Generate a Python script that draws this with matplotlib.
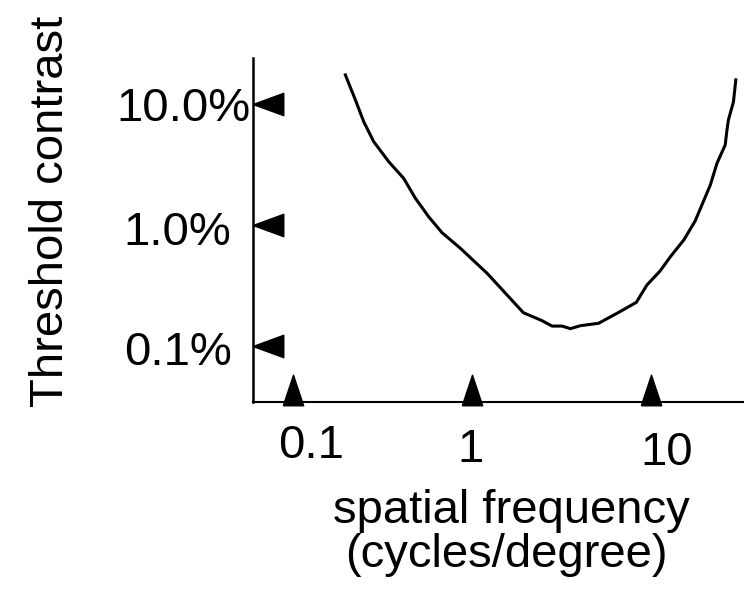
import matplotlib
matplotlib.use("Agg")
import matplotlib.pyplot as plt

plt.rcParams['font.family'] = ['Liberation Sans', 'DejaVu Sans']

# ---- data ----
freq = [0.195, 0.222, 0.247, 0.281, 0.341, 0.413, 0.480, 0.570, 0.677, 0.857,
        1.21, 1.93, 2.45, 2.79, 3.17, 3.53, 4.01, 5.08, 6.43, 8.25, 9.46,
        11.2, 12.8, 15.2, 17.6, 21.4, 23.3, 25.9, 26.5, 27.0, 28.8, 29.7]
threshold = [17.6, 10.9, 7.20, 4.91, 3.35, 2.44, 1.67, 1.17, 0.863, 0.641,
             0.397, 0.187, 0.161, 0.145, 0.145, 0.138, 0.146, 0.153, 0.185, 0.228, 0.318,
             0.415, 0.546, 0.751, 1.08, 2.15, 3.25, 4.61, 6.14, 7.44, 10.5, 16.0]
x_ticks = [0.1, 1, 10]
x_tick_labels = ['0.1', '1', '10']
y_ticks = [10, 1, 0.1]
y_tick_labels = ['10.0%', '1.0%', '0.1%']
ylabel = 'Threshold contrast'
xlabel_lines = ['spatial frequency', '(cycles/degree)']

W, H = 744, 603
fig = plt.figure(figsize=(W / 100, H / 100), dpi=100)
ax = fig.add_axes([253 / W, (H - 402) / H, (W - 253) / W, (402 - 58) / H])
ax.set_xscale('log')
ax.set_yscale('log')
ax.set_xlim(0.0594, 33.0)
ax.set_ylim(0.0340, 24.3)

ax.plot(freq, threshold, color='black', lw=2.2, solid_joinstyle='round')

for s in ['top', 'right']:
    ax.spines[s].set_visible(False)
ax.spines['left'].set_linewidth(1.8)
ax.spines['bottom'].set_linewidth(1.5)
ax.set_xticks([])
ax.set_yticks([])
ax.minorticks_off()
ax.tick_params(which='both', length=0, labelleft=False, labelbottom=False)

# triangle tick markers
up_tri = [(-2 / 3, -1), (2 / 3, -1), (0, 1), (-2 / 3, -1)]
left_tri = [(-1, 0), (1, -0.733), (1, 0.733), (-1, 0)]
xt = ax.get_xaxis_transform()
yt = ax.get_yaxis_transform()
ax.plot(x_ticks, [12 / 344] * len(x_ticks), transform=xt, ls='none',
        marker=up_tri, markersize=22, color='black', clip_on=False)
ax.plot([15 / 491] * len(y_ticks), y_ticks, transform=yt, ls='none',
        marker=left_tri, markersize=22, color='black', clip_on=False)

fs = 34
# y tick labels
y_off = [(-70, -17), (-75.5, -20), (-74.5, -19.5)]
for v, lab, (dx, dy) in zip(y_ticks, y_tick_labels, y_off):
    ax.annotate(lab, xy=(0, v), xycoords=yt, xytext=(dx, dy),
                textcoords='offset pixels', ha='center', va='baseline',
                fontsize=fs, annotation_clip=False)
# x tick labels
x_off = [(18, -56), (-2, -60), (15, -63)]
for v, lab, (dx, dy) in zip(x_ticks, x_tick_labels, x_off):
    ax.annotate(lab, xy=(v, 0), xycoords=xt, xytext=(dx, dy),
                textcoords='offset pixels', ha='center', va='baseline',
                fontsize=fs, annotation_clip=False)

fig.text(51 / W, 1 - 211 / H, ylabel, rotation=90, ha='center', va='center',
         fontsize=fs)
fig.text(511 / W, 1 - 523 / H, xlabel_lines[0], ha='center', va='baseline', fontsize=fs)
fig.text(506.5 / W, 1 - 567 / H, xlabel_lines[1], ha='center', va='baseline', fontsize=fs)

fig.savefig('out.png', dpi=100)
